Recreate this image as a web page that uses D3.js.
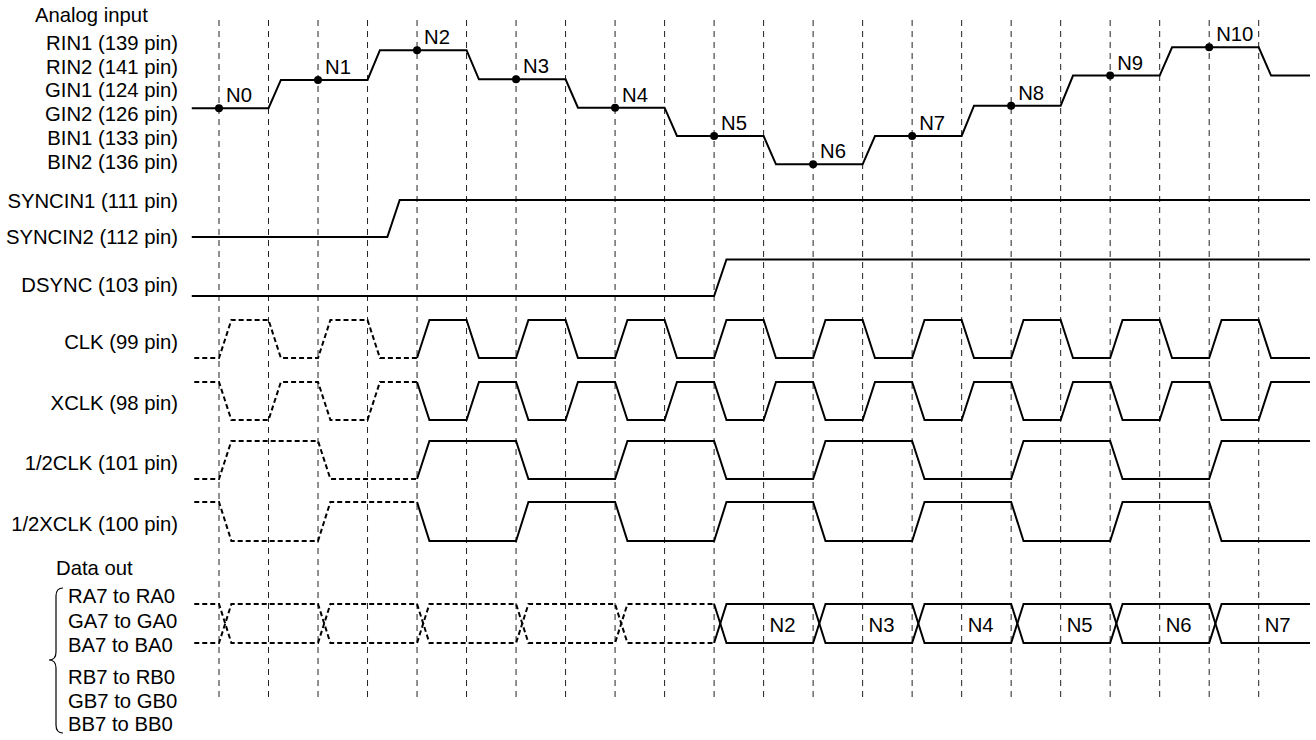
<!DOCTYPE html>
<html><head><meta charset="utf-8">
<script src="https://cdn.jsdelivr.net/npm/d3@7"></script>
<style>
body{margin:0;background:#fff}
svg{display:block}
text{font-family:"Liberation Sans",Arial,Helvetica,sans-serif;font-size:20.3px;fill:#000}
</style>
</head><body>
<svg id="chart" width="1316" height="740"></svg>
<script>
// ---------------- data (time in half clock periods) ----------------
const gridTimes = [0,1,2,3,4,5,6,7,8,9,10,11,12,13,14,15,16,17,18,19,20,21];
const analogNames = ["N0","N1","N2","N3","N4","N5","N6","N7","N8","N9","N10"];
const analogSampleTimes = [0,2,4,6,8,10,12,14,16,18,20];
const analogLevels = [1.96,2.95,3.99,2.97,1.98,0.99,0,0.99,2.05,3.1,4.09,3.1];
const analogEdgeTimes = [1,3,5,7,9,11,13,15,17,19,21];
const analogLabels = ["Analog input","RIN1 (139 pin)","RIN2 (141 pin)","GIN1 (124 pin)","GIN2 (126 pin)","BIN1 (133 pin)","BIN2 (136 pin)"];

const syncinEdges = [3.4];
const dsyncEdges = [10];
const clkEdges = [0,1,2,3,4,5,6,7,8,9,10,11,12,13,14,15,16,17,18,19,20,21];
const halfClkEdges = [0,2,4,6,8,10,12,14,16,18,20];
const dataEdges = [0,2,4,6,8,10,12,14,16,18,20];
const dataValueLabels = ["N2","N3","N4","N5","N6","N7"];
const dataValueTimes = [10,12,14,16,18,20];
const dataGroupA = ["RA7 to RA0","GA7 to GA0","BA7 to BA0"];
const dataGroupB = ["RB7 to RB0","GB7 to GB0","BB7 to BB0"];

const digitalRows = [
  {labels:["SYNCIN1 (111 pin)","SYNCIN2 (112 pin)"], init:0, edges:syncinEdges, solidFrom:-1, start:-0.55},
  {labels:["DSYNC (103 pin)"], init:0, edges:dsyncEdges, solidFrom:-1, start:-0.55},
  {labels:["CLK (99 pin)"], init:0, edges:clkEdges, solidFrom:4, start:-0.5},
  {labels:["XCLK (98 pin)"], init:1, edges:clkEdges, solidFrom:4, start:-0.5},
  {labels:["1/2CLK (101 pin)"], init:0, edges:halfClkEdges, solidFrom:4, start:-0.5},
  {labels:["1/2XCLK (100 pin)"], init:1, edges:halfClkEdges, solidFrom:4, start:-0.5}
];

// ---------------- layout ----------------
const svg = d3.select("#chart");
const x = d3.scaleLinear().domain([0,21]).range([219,1258.7]);
const tEnd = x.invert(1310);
const edgeDur = 0.25;
const yAnalog = d3.scaleLinear().domain([0,4.09]).range([164.3,47.3]);
const rowY = [
  {high:200, low:237, label:[201,237]},
  {high:259.5, low:296, label:[285]},
  {high:320, low:358, label:[342]},
  {high:382, low:420, label:[403]},
  {high:441, low:479, label:[463]},
  {high:502, low:541, label:[524]}
];
const line = d3.line().x(d=>x(d[0])).y(d=>d[1]);

// grid
svg.append("g").selectAll("line").data(gridTimes).join("line")
  .attr("x1",d=>x(d)).attr("x2",d=>x(d)).attr("y1",20).attr("y2",697)
  .attr("stroke","#222").attr("stroke-width",1).attr("stroke-dasharray","6,5");

// analog
const ap = [[-0.55, yAnalog(analogLevels[0])]];
analogEdgeTimes.forEach((e,i)=>{
  ap.push([e, yAnalog(analogLevels[i])]);
  ap.push([e+edgeDur, yAnalog(analogLevels[i+1])]);
});
ap.push([tEnd, yAnalog(analogLevels[analogLevels.length-1])]);
svg.append("path").attr("d",line(ap)).attr("fill","none").attr("stroke","#000").attr("stroke-width",2);
svg.append("g").selectAll("circle").data(analogSampleTimes).join("circle")
  .attr("cx",d=>x(d)).attr("cy",(d,i)=>yAnalog(analogLevels[i])).attr("r",4).attr("fill","#000");
svg.append("g").selectAll("text").data(analogNames).join("text")
  .attr("x",(d,i)=>x(analogSampleTimes[i])+7).attr("y",(d,i)=>yAnalog(analogLevels[i])-6).text(d=>d);

svg.append("text").attr("x",35).attr("y",22).text(analogLabels[0]);
svg.append("g").selectAll("text").data(analogLabels.slice(1)).join("text")
  .attr("x",178).attr("text-anchor","end").attr("y",(d,i)=>49.7+23.8*i).text(d=>d);

// digital rows
digitalRows.forEach((r,ri)=>{
  const g = rowY[ri];
  const ys = d3.scaleLinear().domain([0,1]).range([g.low,g.high]);
  let cur = r.init;
  const dashed = [[r.start, ys(cur)]];
  const solid = [];
  let target = r.solidFrom < 0 ? solid : dashed;
  if (r.solidFrom < 0) { solid.push(dashed.pop()); }
  r.edges.forEach(e=>{
    if (e === r.solidFrom) { dashed.push([e, ys(cur)]); target = solid; }
    target.push([e, ys(cur)]);
    cur = 1-cur;
    target.push([e+edgeDur, ys(cur)]);
  });
  target.push([tEnd, ys(cur)]);
  if (dashed.length>1) svg.append("path").attr("d",line(dashed)).attr("fill","none")
    .attr("stroke","#000").attr("stroke-width",2).attr("stroke-dasharray","5,3");
  svg.append("path").attr("d",line(solid)).attr("fill","none").attr("stroke","#000").attr("stroke-width",2);
  r.labels.forEach((t,li)=>{
    svg.append("text").attr("x",178).attr("text-anchor","end").attr("y",g.label[li]+7).text(t);
  });
});

// data out bus
const busTop = 604, busBot = 643, busSolid = 10;
[ [busTop,busBot], [busBot,busTop] ].forEach(([a,b])=>{
  let cur = a;
  const dashed = [[-0.5, cur]], solid = [];
  let target = dashed;
  dataEdges.forEach(e=>{
    if (e === busSolid) { dashed.push([e,cur]); target = solid; }
    target.push([e,cur]);
    cur = (cur===a)?b:a;
    target.push([e+edgeDur,cur]);
  });
  target.push([tEnd,cur]);
  svg.append("path").attr("d",line(dashed)).attr("fill","none").attr("stroke","#000")
    .attr("stroke-width",2).attr("stroke-dasharray","5,3");
  svg.append("path").attr("d",line(solid)).attr("fill","none").attr("stroke","#000").attr("stroke-width",2);
});
svg.append("g").selectAll("text").data(dataValueLabels).join("text")
  .attr("x",(d,i)=>x(dataValueTimes[i]+1)+6).attr("y",(busTop+busBot)/2+8).text(d=>d);

svg.append("text").attr("x",56).attr("y",575).text("Data out");
svg.append("g").selectAll("text").data(dataGroupA).join("text")
  .attr("x",68).attr("y",(d,i)=>603+24.5*i).text(d=>d);
svg.append("g").selectAll("text").data(dataGroupB).join("text")
  .attr("x",68).attr("y",(d,i)=>684+23.5*i).text(d=>d);
svg.append("path")
  .attr("d","M63,588 Q56,588 56,596 L56,652 Q56,660 49,660 Q56,660 56,668 L56,725 Q56,733 63,733")
  .attr("fill","none").attr("stroke","#000").attr("stroke-width",1.2);
</script>
</body></html>
